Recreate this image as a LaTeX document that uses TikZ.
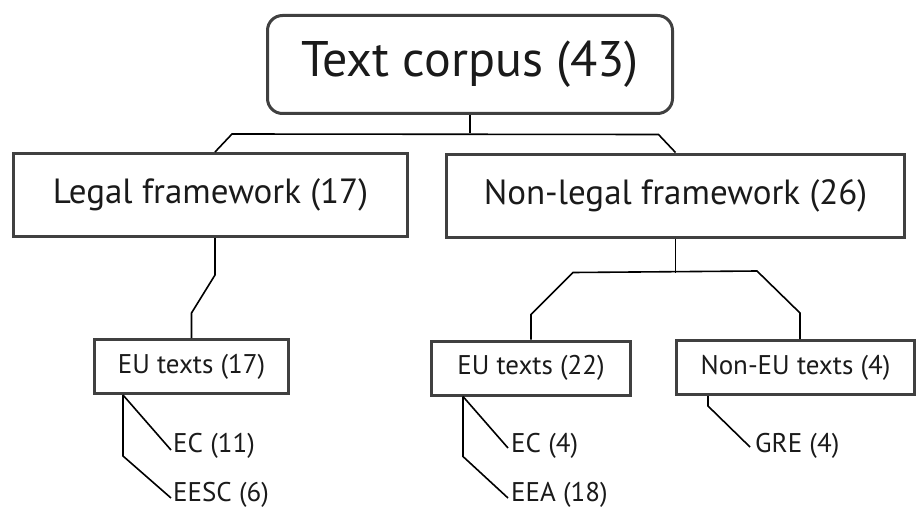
\documentclass[tikz,border=0pt]{standalone}
\usepackage{fontspec}
\setmainfont{PT Sans}
\usetikzlibrary{calc}
\definecolor{boxgray}{HTML}{404040}
\definecolor{txt}{HTML}{1A1A1A}
\tikzset{
  treebox/.style={draw=boxgray, line width=3pt, inner sep=0pt, text=txt},
  rootbox/.style={treebox, rounded corners=15pt, minimum width=405pt, minimum height=98pt, font=\fontsize{50}{50}\selectfont},
  midbox/.style={treebox, minimum height=83pt, font=\fontsize{35}{35}\selectfont},
  lowbox/.style={treebox, minimum height=54pt, font=\fontsize{27}{27}\selectfont},
  leaf/.style={inner sep=0pt, anchor=base west, text=txt, font=\fontsize{27}{27}\selectfont},
  conn/.style={draw=black, line width=1.6pt}
}
\begin{document}
\begin{tikzpicture}[x=1pt,y=-1pt]
\useasboundingbox (0,0) rectangle (920,508);
\node[rootbox] (root) at (470,64.5) {Text corpus (43)};
\node[midbox, minimum width=394pt] (legal) at (210.5,195) {Legal framework (17)};
\node[midbox, minimum width=458pt] (nonlegal) at (675.5,195.5) {Non-legal framework (26)};
\node[lowbox, minimum width=194pt] (eu17) at (191.5,366.5) {EU texts (17)};
\node[lowbox, minimum width=199pt] (eu22) at (531,368) {EU texts (22)};
\node[lowbox, minimum width=238pt] (noneu) at (795.5,367.5) {Non-EU texts (4)};
\node[leaf] (ec11) at (173,452) {EC (11)};
\node[leaf] (eesc) at (173,501) {EESC (6)};
\node[leaf] (ec4) at (511,452) {EC (4)};
\node[leaf] (eea) at (511,501) {EEA (18)};
\node[leaf] (gre) at (755,452) {GRE (4)};
% level 1
\draw[conn] (root.south) -- ++(0,18);
\draw[conn] ([xshift=4.5pt]legal.north) -- ++(17,-18) -- ($(nonlegal.north)+(-17,-18)$) -- (nonlegal.north);
% legal -> eu17
\draw[conn] ([xshift=4.5pt]legal.south) -- ++(0,37) -- ($(eu17.north)+(0,-25)$) -- (eu17.north);
% nonlegal -> children
\draw[conn] (nonlegal.south) -- ++(0,34);
\draw[conn] (eu22.north) -- ++(0,-25) -- ++(42,-42) -- ($([xshift=4.5pt]noneu.north)+(-43,-68)$) -- ++(43,42) -- ([xshift=4.5pt]noneu.north);
% leaves
\draw[conn] ([xshift=30pt]eu17.south west) -- ($(ec11.base west)+(-2,-2)$);
\draw[conn] ([xshift=30pt]eu17.south west) -- ++(0,61) -- ($(eesc.base west)+(-2,-3)$);
\draw[conn] ([xshift=33pt]eu22.south west) -- ($(ec4.base west)+(-3,-4)$);
\draw[conn] ([xshift=33pt]eu22.south west) -- ++(0,60) -- ($(eea.base west)+(-3,-3)$);
\draw[conn] ([xshift=33pt]noneu.south west) -- ++(0,10) -- ($(gre.base west)+(-5,-5)$);
\end{tikzpicture}
\end{document}
